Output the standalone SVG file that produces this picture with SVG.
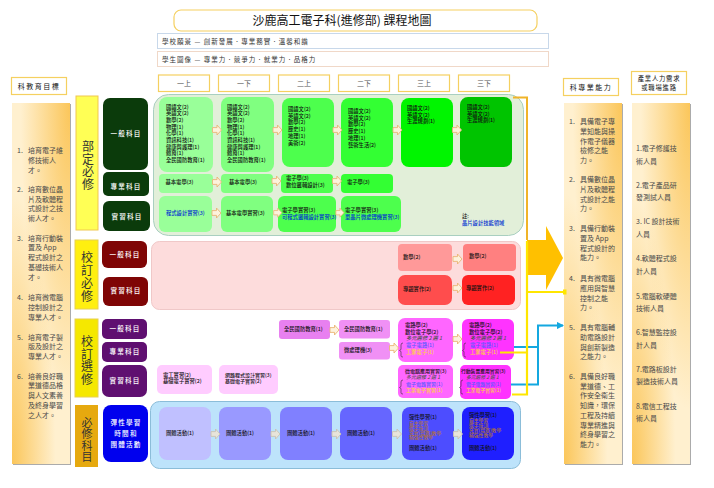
<svg xmlns="http://www.w3.org/2000/svg" width="714" height="488" viewBox="0 0 714 488">
<style>
text{font-family:"Noto Sans CJK TC","Noto Sans",sans-serif;fill:#111}
.ol{fill:#fff;stroke:#f5d060;stroke-width:1.2}
.hd{font-size:6.5px;fill:#333;letter-spacing:1px}
.yr{font-size:7px;fill:#555;text-anchor:middle}
.c{font-size:5.3px;fill:#111;font-weight:500}
.bl{fill:#0030d0}
.lst{font-size:7px;fill:#4a4a4a}
.lab{font-size:6.6px;fill:#fff;text-anchor:middle;letter-spacing:1.2px;font-weight:500}
.side{font-size:12px;fill:#333;text-anchor:middle}
.it{font-style:italic;fill:#555}
.by{fill:#5a5aff}
.yl{fill:#ffd23f}
.or{fill:#b0703a;font-size:4.8px}
.arr{fill:#fdf2dc;stroke:#eab676;stroke-width:.9}
.arg{fill:#e8e4da;stroke:#c9c3b4;stroke-width:.9}
.base{fill:#fff0cf;filter:url(#sh)}
.tr{fill:url(#gtr)}
.blc{fill:url(#gbl)}
</style>
<defs>
<radialGradient id="gtr" cx="1" cy="0" r=".85"><stop offset="0" stop-color="#fbc65a"/><stop offset="1" stop-color="#fbc65a" stop-opacity="0"/></radialGradient>
<radialGradient id="gbl" cx="0" cy="1" r=".75"><stop offset="0" stop-color="#fbc65a"/><stop offset="1" stop-color="#fbc65a" stop-opacity="0"/></radialGradient>
<filter id="sh" x="-10%" y="-5%" width="125%" height="110%"><feDropShadow dx="1" dy="1" stdDeviation=".7" flood-color="#888" flood-opacity=".7"/></filter>
<path id="a" d="M0-2.4H4.500V-5L9 0 4.500 5V2.400H0Z"/>
<marker id="tri" viewBox="0 0 6 6" refX="5" refY="3" markerWidth="3.600" markerHeight="3.600" orient="auto"><path d="M0 0L6 3 0 6Z" fill="#14a8e0"/></marker>
</defs>

<g id="title"><rect x="174" y="10" width="363" height="21" rx="7" class="ol"/><text x="342" y="25" text-anchor="middle" font-size="12">沙鹿高工電子科(進修部) 課程地圖</text></g>
<g id="vision"><rect x="157.500" y="33.500" width="391" height="15" fill="#fff" stroke="#c8d8ea"/><text x="162" y="43.500" class="hd">學校願景 — 創新發展．專業務實．溫馨和諧</text></g>
<g id="portrait"><rect x="157.500" y="51.500" width="391" height="15" fill="#fff" stroke="#f0d8c8"/><text x="162" y="61.500" class="hd">學生圖像 — 專業力．競爭力．就業力．品格力</text></g>

<g id="years">
<rect x="158.500" y="75" width="51" height="16.500" class="ol"/><text x="184" y="86" class="yr">一上</text>
<rect x="218.500" y="75" width="51" height="16.500" class="ol"/><text x="244" y="86" class="yr">一下</text>
<rect x="278.500" y="75" width="51" height="16.500" class="ol"/><text x="304" y="86" class="yr">二上</text>
<rect x="338.500" y="75" width="51" height="16.500" class="ol"/><text x="364" y="86" class="yr">二下</text>
<rect x="398.500" y="75" width="51" height="16.500" class="ol"/><text x="424" y="86" class="yr">三上</text>
<rect x="458.500" y="75" width="51" height="16.500" class="ol"/><text x="484" y="86" class="yr">三下</text>
</g>

<g id="goals"><rect x="11.500" y="77.500" width="55" height="17" class="ol"/><text x="39" y="88.500" text-anchor="middle" font-size="7" fill="#333" style="letter-spacing:1.5px">科教育目標</text>
<rect x="12" y="103" width="58" height="361" class="base"/><rect x="12" y="103" width="58" height="361" class="tr"/><rect x="12" y="103" width="58" height="361" class="blc"/>
<text class="lst" x="17" y="153">1.</text><text class="lst" y="153"><tspan x="28">培育電子維</tspan><tspan x="28" dy="9.800">修技術人</tspan><tspan x="28" dy="9.800">才。</tspan></text>
<text class="lst" x="17" y="192">2.</text><text class="lst" y="192"><tspan x="28">培育數位晶</tspan><tspan x="28" dy="9.700">片及軟體程</tspan><tspan x="28" dy="9.700">式設計之技</tspan><tspan x="28" dy="9.700">術人才。</tspan></text>
<text class="lst" x="17" y="240.500">3.</text><text class="lst" y="240.500"><tspan x="28">培育行動裝</tspan><tspan x="28" dy="9.900">置及 App</tspan><tspan x="28" dy="9.900">程式設計之</tspan><tspan x="28" dy="9.900">基礎技術人</tspan><tspan x="28" dy="9.900">才。</tspan></text>
<text class="lst" x="17" y="300">4.</text><text class="lst" y="300"><tspan x="28">培育微電腦</tspan><tspan x="28" dy="9.800">控制設計之</tspan><tspan x="28" dy="9.800">專業人才。</tspan></text>
<text class="lst" x="17" y="339.500">5.</text><text class="lst" y="339.500"><tspan x="28">培育電子製</tspan><tspan x="28" dy="9.800">版及設計之</tspan><tspan x="28" dy="9.800">專業人才。</tspan></text>
<text class="lst" x="17" y="378.500">6.</text><text class="lst" y="378.500"><tspan x="28">培養良好職</tspan><tspan x="28" dy="9.800">業道德品格</tspan><tspan x="28" dy="9.800">與人文素養</tspan><tspan x="28" dy="9.800">及終身學習</tspan><tspan x="28" dy="9.800">之人才。</tspan></text></g>

<g id="cat-bu"><rect x="76" y="96" width="22" height="134" fill="#ffff55" stroke="#f0c850"/><text class="side" y="151"><tspan x="88">部</tspan><tspan x="88" dy="12.500">定</tspan><tspan x="88" dy="12.500">必</tspan><tspan x="88" dy="12.500">修</tspan></text></g>
<g id="cat-xr"><rect x="75" y="240" width="23" height="69" fill="#ffef10" stroke="#e8d050"/><text class="side" y="262"><tspan x="87">校</tspan><tspan x="87" dy="13">訂</tspan><tspan x="87" dy="13">必</tspan><tspan x="87" dy="13">修</tspan></text></g>
<g id="cat-xe"><rect x="75" y="319" width="23" height="78" fill="#f5e800" stroke="#e8d050"/><text class="side" y="346"><tspan x="87">校</tspan><tspan x="87" dy="12.500">訂</tspan><tspan x="87" dy="12.500">選</tspan><tspan x="87" dy="12.500">修</tspan></text></g>
<g id="cat-bx"><rect x="75" y="405" width="23" height="62" fill="#e6a90f"/><text class="side" y="426.500" style="font-size:11px"><tspan x="87">必</tspan><tspan x="87" dy="11.500">修</tspan><tspan x="87" dy="11.500">科</tspan><tspan x="87" dy="11.500">目</tspan></text></g>

<g id="n-g1"><rect x="103" y="98" width="45" height="72" rx="7" fill="#0b3b0b"/><text class="lab" x="126" y="136">一般科目</text></g>
<g id="n-g2"><rect x="103" y="172" width="46" height="24" rx="5" fill="#0b3b0b"/><text class="lab" x="126" y="188.500">專業科目</text></g>
<g id="n-g3"><rect x="103" y="201" width="47" height="30" rx="6" fill="#0b3b0b"/><text class="lab" x="127" y="218.500">實習科目</text></g>
<g id="n-r1"><rect x="102" y="241" width="45" height="27" rx="6" fill="#7f0505"/><text class="lab" x="125" y="256.500">一般科目</text></g>
<g id="n-r2"><rect x="103" y="277" width="45" height="29" rx="6" fill="#7f0505"/><text class="lab" x="126" y="293">實習科目</text></g>
<g id="n-p1"><rect x="102" y="319" width="45" height="20" rx="5" fill="#5f0f70"/><text class="lab" x="125" y="331">一般科目</text></g>
<g id="n-p2"><rect x="102" y="342" width="45" height="20" rx="5" fill="#5f0f70"/><text class="lab" x="125" y="354">專業科目</text></g>
<g id="n-p3"><rect x="102" y="365" width="45" height="32" rx="7" fill="#5f0f70"/><text class="lab" x="125" y="382.500">實習科目</text></g>
<g id="n-b1"><rect x="103" y="405" width="45" height="57" rx="8" fill="#0000ee"/><text class="lab" y="424.500"><tspan x="126">彈性學習</tspan><tspan x="126" dy="11">時間和</tspan><tspan x="126" dy="11">團體活動</tspan></text></g>

<g id="panel-green"><rect x="153.500" y="94.500" width="370" height="141" rx="15" fill="#e2efd9" stroke="#a9cfc0"/>
<rect x="159" y="97" width="54" height="75" rx="8" fill="#99ff99"/>
<rect x="221" y="97" width="53" height="75" rx="8" fill="#80ff80"/>
<rect x="282" y="98" width="52" height="69" rx="8" fill="#4dff4d"/>
<rect x="341" y="98" width="52" height="69" rx="8" fill="#33ff33"/>
<rect x="401" y="98" width="52" height="69" rx="8" fill="#00f500"/>
<rect x="460" y="97" width="52" height="70" rx="8" fill="#00c400"/>
<rect x="159" y="174" width="54" height="19" rx="4" fill="#99ff99"/>
<rect x="221" y="174" width="52" height="19" rx="4" fill="#80ff80"/>
<rect x="281" y="174" width="52" height="19" rx="4" fill="#4dff4d"/>
<rect x="341" y="174" width="52" height="19" rx="4" fill="#33ff33"/>
<rect x="159" y="196" width="53" height="36" rx="6" fill="#99ff99"/>
<rect x="221" y="196" width="52" height="36" rx="6" fill="#80ff80"/>
<rect x="278" y="196" width="58" height="36" rx="6" fill="#4dff4d"/>
<rect x="341" y="196" width="60" height="36" rx="6" fill="#4dff4d"/>
<text class="c" y="108.500"><tspan x="166">國語文(2)</tspan><tspan x="166" dy="6.700">英語文(2)</tspan><tspan x="166" dy="6.700">數學(2)</tspan><tspan x="166" dy="6.700">物理(1)</tspan><tspan x="166" dy="6.700">化學(1)</tspan><tspan x="166" dy="6.700">資訊科技(1)</tspan><tspan x="166" dy="6.700">健康與護理(1)</tspan><tspan x="166" dy="6.700">體育(1)</tspan><tspan x="166" dy="6.700">全民國防教育(1)</tspan></text>
<text class="c" y="108.500"><tspan x="227">國語文(2)</tspan><tspan x="227" dy="6.700">英語文(2)</tspan><tspan x="227" dy="6.700">數學(2)</tspan><tspan x="227" dy="6.700">物理(1)</tspan><tspan x="227" dy="6.700">化學(1)</tspan><tspan x="227" dy="6.700">資訊科技(1)</tspan><tspan x="227" dy="6.700">健康與護理(1)</tspan><tspan x="227" dy="6.700">體育(1)</tspan><tspan x="227" dy="6.700">全民國防教育(1)</tspan></text>
<text class="c" y="111"><tspan x="288">國語文(2)</tspan><tspan x="288" dy="6.700">英語文(2)</tspan><tspan x="288" dy="6.700">數學(2)</tspan><tspan x="288" dy="6.700">歷史(1)</tspan><tspan x="288" dy="6.700">地理(1)</tspan><tspan x="288" dy="6.700">美術(2)</tspan></text>
<text class="c" y="113"><tspan x="348">國語文(2)</tspan><tspan x="348" dy="6.700">英語文(2)</tspan><tspan x="348" dy="6.700">數學(2)</tspan><tspan x="348" dy="6.700">歷史(1)</tspan><tspan x="348" dy="6.700">地理(1)</tspan><tspan x="348" dy="6.700">藝術生活(2)</tspan></text>
<text class="c" y="110"><tspan x="407">國語文(2)</tspan><tspan x="407" dy="6.700">英語文(2)</tspan><tspan x="407" dy="6.700">生涯規劃(1)</tspan></text>
<text class="c" y="109"><tspan x="467">國語文(2)</tspan><tspan x="467" dy="6.700">英語文(2)</tspan><tspan x="467" dy="6.700">生涯規劃(1)</tspan></text>
<text class="c" x="165.500" y="184">基本電學(3)</text><text class="c" x="229" y="184">基本電學(3)</text>
<text class="c" y="180"><tspan x="286">電子學(3)</tspan><tspan x="286" dy="7">數位邏輯設計(3)</tspan></text><text class="c" x="347" y="184">電子學(3)</text>
<text class="c bl" x="166" y="215">程式設計實習(3)</text><text class="c" x="226" y="215">基本電學實習(3)</text>
<text class="c" y="212"><tspan x="282">電子學實習(3)</tspan><tspan class="bl" x="282" dy="7">可程式邏輯設計實習(3)</tspan></text>
<text class="c" y="212"><tspan x="345">電子學實習(3)</tspan><tspan class="bl" x="345" dy="7">單晶片微處理機實習(3)</tspan></text>
<text class="c" y="218"><tspan x="462">註:</tspan><tspan class="bl" x="462" dy="7">晶片設計技能領域</tspan></text></g>

<g id="panel-red"><rect x="151.500" y="241.500" width="369" height="68" rx="8" fill="#fddcdc" stroke="#f0c8c8"/>
<rect x="398" y="244" width="54" height="27" rx="4" fill="#ff9999"/><rect x="463" y="244" width="53" height="27" rx="4" fill="#ff8080"/>
<rect x="398" y="275" width="54" height="30" rx="7" fill="#ff4d4d"/><rect x="462" y="275" width="53" height="30" rx="6" fill="#ff2222"/>
<text class="c" x="403" y="258.500">數學(2)</text><text class="c" x="469" y="258">數學(2)</text><text class="c" x="403" y="291">專題實作(2)</text><text class="c" x="466" y="290">專題實作(2)</text></g>

<g id="panel-purple">
<rect x="279" y="320" width="51" height="19" rx="3" fill="#e880f0"/><rect x="339" y="320" width="51" height="18.500" rx="3" fill="#f090f5"/><rect x="339" y="342" width="51" height="17.500" rx="3" fill="#f090f5"/>
<text class="c" x="284" y="331">全民國防教育(1)</text><text class="c" x="344" y="331">全民國防教育(1)</text><text class="c" x="344" y="352">微處理機(3)</text>
<rect x="157" y="365" width="55" height="29" rx="5" fill="#ffccff"/><rect x="219" y="365" width="59" height="29" rx="5" fill="#ffccff"/>
<text class="c" y="377"><tspan x="163">電工實習(2)</tspan><tspan x="163" dy="5.500">基礎電子實習(2)</tspan></text><text class="c" y="377" style="font-size:5px"><tspan x="225">網路程式設計實習(3)</tspan><tspan x="225" dy="5.500">基礎電子實習(2)</tspan></text>
<rect x="398" y="318" width="55" height="44" rx="7" fill="#ff66ff"/><rect x="462" y="319" width="52" height="41" rx="6" fill="#ff33ff"/>
<rect x="398" y="365" width="55" height="33" rx="5" fill="#ff66ff"/><rect x="460" y="365" width="51" height="34" rx="5" fill="#ff33ff"/>
<text class="c" y="327"><tspan x="405">電路學(2)</tspan><tspan x="405" dy="6.500">數位電子學(2)</tspan><tspan class="it" x="406" dy="6.500">多元選修 2 選 1</tspan><tspan class="by" x="406" dy="7">電子電路(1)</tspan><tspan class="yl" x="406" dy="7">工業電子(1)</tspan></text>
<text class="c" y="327"><tspan x="469">電路學(2)</tspan><tspan x="469" dy="6.500">數位電子學(2)</tspan><tspan class="it" x="470" dy="6.500">多元選修 2 選 1</tspan><tspan class="by" x="470" dy="7">電子電路(1)</tspan><tspan class="yl" x="470" dy="7">工業電子(1)</tspan></text>
<text class="c" y="373" style="font-size:5px"><tspan x="405">微電腦應用實習(3)</tspan><tspan class="it" x="406" dy="6">多元選修 2 選 1</tspan><tspan class="by" x="406" dy="6.500">電子電路實習(1)</tspan><tspan class="yl" x="406" dy="6.500">工業電子實習(1)</tspan></text>
<text class="c" y="373" style="font-size:4.800px"><tspan x="461">行動裝置應用實習(3)</tspan><tspan class="it" x="466" dy="6">多元選修 2 選 1</tspan><tspan class="by" x="466" dy="6.500">電子電路實習(1)</tspan><tspan class="yl" x="466" dy="6.500">工業電子實習(1)</tspan></text>
<path d="M403 343q-2 0-2 2v4q0 1-1.500 1.500q1.500.5 1.500 1.500v4q0 1 2 1M466 343q-2 0-2 2v4q0 1-1.500 1.500q1.500.5 1.500 1.500v4q0 1 2 1M403 380q-2 0-2 2v4q0 1-1.500 1.500q1.500.5 1.500 1.500v4q0 1 2 1M463 380q-2 0-2 2v4q0 1-1.500 1.500q1.500.5 1.500 1.500v4q0 1 2 1" fill="none" stroke="#333" stroke-width=".6"/></g>

<g id="panel-blue"><rect x="150.500" y="401.500" width="370" height="67" rx="9" fill="#bde3fb" stroke="#8bbdd9"/>
<rect x="159" y="407" width="52" height="53" rx="8" fill="#c0c0ff"/><rect x="219" y="407" width="52" height="53" rx="8" fill="#9999ff"/><rect x="280" y="407" width="52" height="53" rx="8" fill="#8080ff"/><rect x="340" y="407" width="52" height="53" rx="8" fill="#6666ff"/><rect x="402" y="407" width="52" height="53" rx="8" fill="#4d4dff"/><rect x="462" y="407" width="52" height="53" rx="8" fill="#1f1fff"/>
<text class="c" x="166" y="435">團體活動(1)</text><text class="c" x="226" y="435">團體活動(1)</text><text class="c" x="287" y="435">團體活動(1)</text><text class="c" x="347" y="435">團體活動(1)</text>
<text class="c" y="419"><tspan x="409">彈性學習(1)</tspan><tspan class="or" x="409" dy="5.500">自主學習</tspan><tspan class="or" x="409" dy="5">選手培訓</tspan><tspan class="or" x="409" dy="5">充實(增廣)教學</tspan><tspan class="or" x="409" dy="4.800">補強性教學</tspan><tspan x="409" dy="11">團體活動(1)</tspan></text>
<text class="c" y="417"><tspan x="469">彈性學習(1)</tspan><tspan class="or" x="469" dy="5">自主學習</tspan><tspan class="or" x="469" dy="5">選手培訓</tspan><tspan class="or" x="469" dy="5">充實(增廣)教學</tspan><tspan class="or" x="469" dy="5">補強性教學</tspan><tspan x="469" dy="13">團體活動(1)</tspan></text></g>

<g id="skills"><rect x="563.500" y="78.500" width="55" height="17" class="ol"/><text x="591" y="89.500" text-anchor="middle" font-size="7" fill="#333" style="letter-spacing:1.500px">科專業能力</text>
<rect x="564" y="103" width="58" height="361" class="base"/><rect x="564" y="103" width="58" height="361" class="tr"/><rect x="564" y="103" width="58" height="361" class="blc"/>
<text class="lst" x="569" y="124">1.</text><text class="lst" y="124"><tspan x="580">具備電子專</tspan><tspan x="580" dy="9.800">業知能與操</tspan><tspan x="580" dy="9.800">作電子儀器</tspan><tspan x="580" dy="9.800">檢修之能</tspan><tspan x="580" dy="9.800">力。</tspan></text>
<text class="lst" x="569" y="182">2.</text><text class="lst" y="182"><tspan x="580">具備數位晶</tspan><tspan x="580" dy="9.800">片及軟體程</tspan><tspan x="580" dy="9.800">式設計之能</tspan><tspan x="580" dy="9.800">力。</tspan></text>
<text class="lst" x="569" y="231">3.</text><text class="lst" y="231"><tspan x="580">具備行動裝</tspan><tspan x="580" dy="9.800">置及 App</tspan><tspan x="580" dy="9.800">程式設計的</tspan><tspan x="580" dy="9.800">能力。</tspan></text>
<text class="lst" x="569" y="281">4.</text><text class="lst" y="281"><tspan x="580">具有微電腦</tspan><tspan x="580" dy="9.800">應用與智慧</tspan><tspan x="580" dy="9.800">控制之能</tspan><tspan x="580" dy="9.800">力。</tspan></text>
<text class="lst" x="569" y="330">5.</text><text class="lst" y="330"><tspan x="580">具有電腦輔</tspan><tspan x="580" dy="9.800">助電路設計</tspan><tspan x="580" dy="9.800">與創新製造</tspan><tspan x="580" dy="9.800">之能力。</tspan></text>
<text class="lst" x="569" y="379">6.</text><text class="lst" y="379"><tspan x="580">具備良好職</tspan><tspan x="580" dy="9.700">業道德、工</tspan><tspan x="580" dy="9.700">作安全衛生</tspan><tspan x="580" dy="9.700">知識，環保</tspan><tspan x="580" dy="9.700">工程及持續</tspan><tspan x="580" dy="9.700">專業精進與</tspan><tspan x="580" dy="9.700">終身學習之</tspan><tspan x="580" dy="9.700">能力。</tspan></text></g>

<g id="careers"><rect x="631.500" y="71.500" width="55" height="23" class="ol"/><text text-anchor="middle" font-size="6.300" fill="#333" style="letter-spacing:.8px" y="81"><tspan x="659">產業人力需求</tspan><tspan x="659" dy="8.800">或職場進路</tspan></text>
<rect x="632" y="103" width="58" height="361" class="base"/><rect x="632" y="103" width="58" height="361" class="tr"/><rect x="632" y="103" width="58" height="361" class="blc"/>
<text class="lst" x="636" y="151">1.電子修護技</text><text class="lst" x="636" y="164">術人員</text><text class="lst" x="636" y="188">2.電子產品研</text><text class="lst" x="636" y="200">發測試人員</text><text class="lst" x="636" y="224">3. IC 設計技術</text><text class="lst" x="636" y="237">人員</text><text class="lst" x="636" y="261">4.軟體程式設</text><text class="lst" x="636" y="274">計人員</text><text class="lst" x="636" y="299">5.電腦軟硬體</text><text class="lst" x="636" y="311">技術人員</text><text class="lst" x="636" y="335">6.智慧監控設</text><text class="lst" x="636" y="348">計人員</text><text class="lst" x="636" y="372">7.電路板設計</text><text class="lst" x="636" y="384">製造技術人員</text><text class="lst" x="636" y="409">8.電信工程技</text><text class="lst" x="636" y="421">術人員</text></g>

<g id="connectors">
<g class="arr">
<use href="#a" x="212.500" y="130"/><use href="#a" x="273" y="130"/><use href="#a" x="333" y="130"/><use href="#a" x="393" y="130"/><use href="#a" x="452.500" y="130"/>
<use href="#a" x="212.500" y="182"/><use href="#a" x="272" y="181"/><use href="#a" x="332.500" y="181"/>
<use href="#a" x="212" y="213"/><use href="#a" x="273" y="213" transform="translate(28 21) scale(.9)"/><use href="#a" x="336" y="213" transform="translate(33.500 21) scale(.9)"/>
<use href="#a" x="453" y="259"/><use href="#a" x="453" y="288"/>
<use href="#a" x="330" y="330"/><use href="#a" x="389.500" y="348"/><use href="#a" x="453" y="339"/>
</g>
<g class="arg"><use href="#a" x="211" y="434"/><use href="#a" x="271" y="434"/><use href="#a" x="332" y="434"/><use href="#a" x="392.500" y="434"/><use href="#a" x="453.500" y="434"/></g>
<path d="M527 240H546V226L563 258 546 290V275H527Z" fill="#ffc000"/>
<path d="M513 97.500H527V240" fill="none" stroke="#f0b429" stroke-width="2"/>
<path d="M514 347H538M511 384.500H538V325.500H563" fill="none" stroke="#14a8e0" stroke-width="2" marker-end="url(#tri)"/>
<path d="M527 241V394.500H512M527 292H565M500 352.500H527" fill="none" stroke="#ffe600" stroke-width="2.200"/>
<rect x="563" y="289.500" width="3.500" height="5" fill="#ffe600"/>
</g>
</svg>
